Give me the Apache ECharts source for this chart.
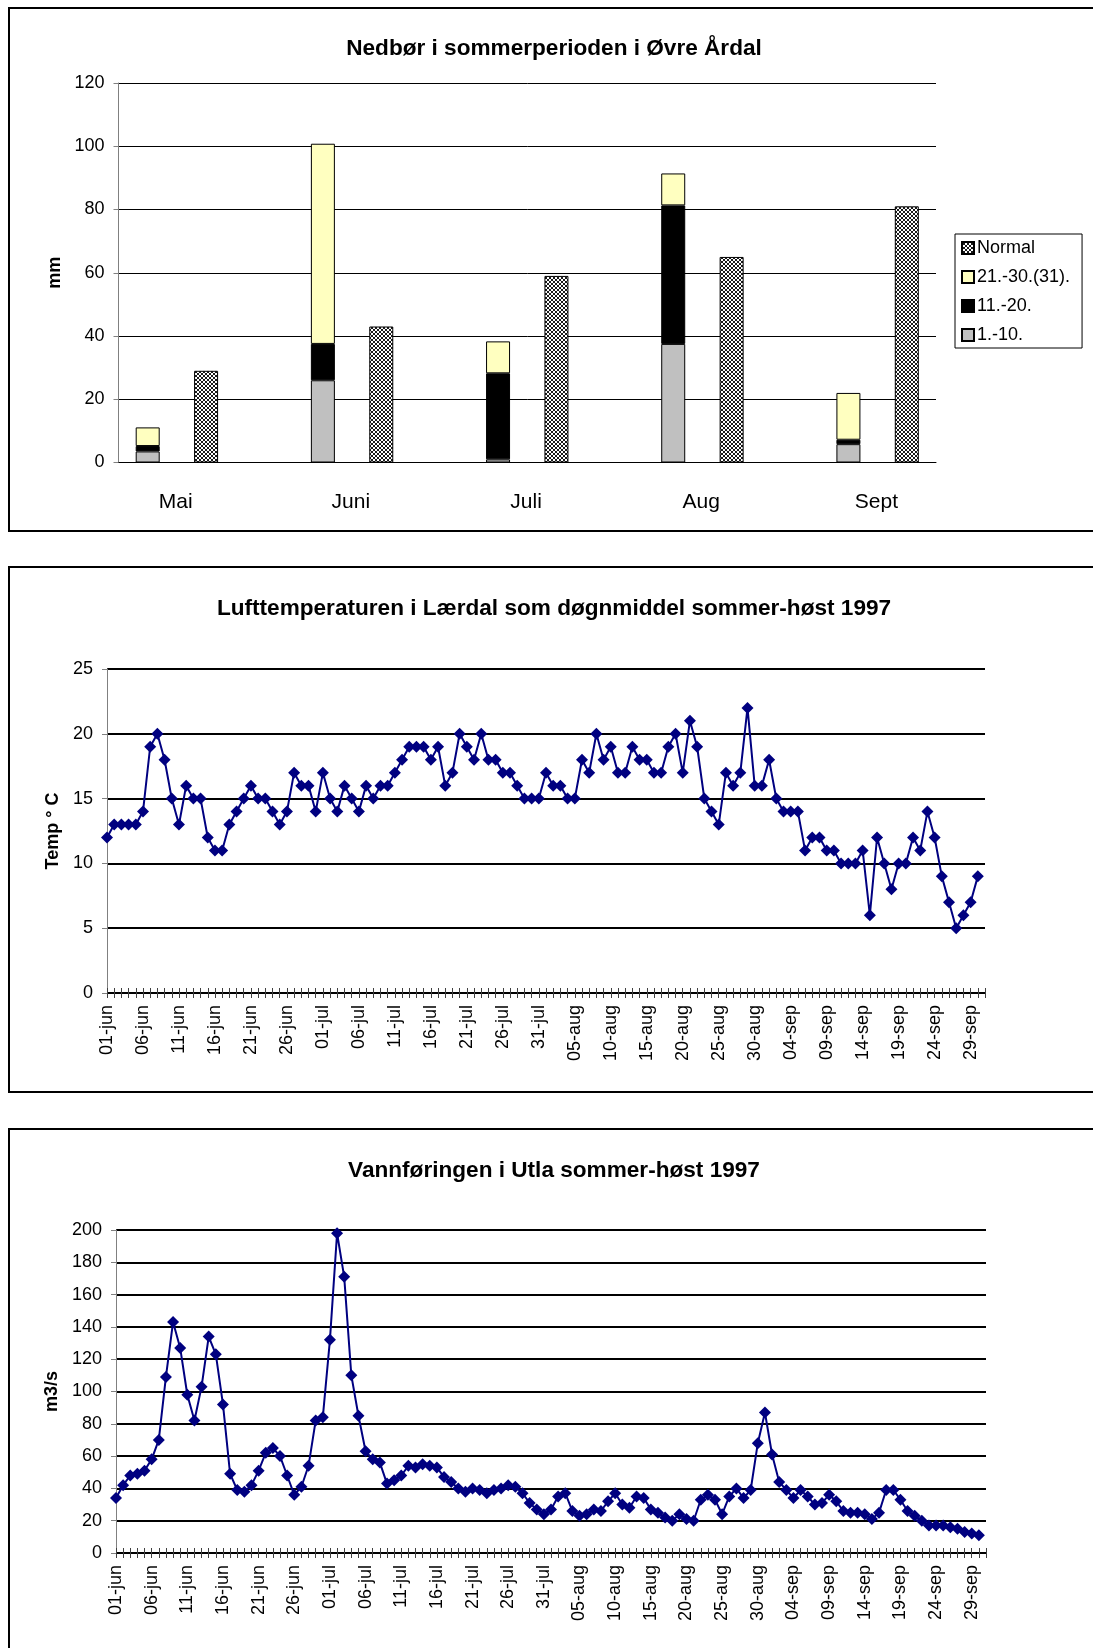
<!DOCTYPE html>
<html>
<head>
<meta charset="utf-8">
<title>Nedbør, lufttemperatur og vannføring 1997</title>
<script src="https://cdn.jsdelivr.net/npm/echarts@6/dist/echarts.min.js"></script>
<style>
  html, body { margin: 0; padding: 0; background: #fff; overflow: hidden; }
  #chart { width: 1093px; height: 1648px; }
</style>
</head>
<body>
<div id="chart"></div>
<script>
// Nedbør (mm) per tidagersperiode, måned for måned
var rainMonths = ['Mai', 'Juni', 'Juli', 'Aug', 'Sept'];
var rain1to10 = [3.5, 26, 1, 37.5, 5.8];
var rain11to20 = [1.7, 11.5, 27.2, 43.8, 1.4];
var rain21to31 = [5.9, 63.3, 10.1, 10.1, 14.8];
var rainNormal = [29, 43, 59, 65, 81];

// Dager 01-jun .. 30-sep
var dayMonths = [['jun', 30], ['jul', 31], ['aug', 31], ['sep', 30]];

// Lufttemperatur, døgnmiddel (°C)
var tempValues = [
  12, 13, 13, 13, 13, 14, 19, 20, 18, 15,
  13, 16, 15, 15, 12, 11, 11, 13, 14, 15,
  16, 15, 15, 14, 13, 14, 17, 16, 16, 14,
  17, 15, 14, 16, 15, 14, 16, 15, 16, 16,
  17, 18, 19, 19, 19, 18, 19, 16, 17, 20,
  19, 18, 20, 18, 18, 17, 17, 16, 15, 15,
  15, 17, 16, 16, 15, 15, 18, 17, 20, 18,
  19, 17, 17, 19, 18, 18, 17, 17, 19, 20,
  17, 21, 19, 15, 14, 13, 17, 16, 17, 22,
  16, 16, 18, 15, 14, 14, 14, 11, 12, 12,
  11, 11, 10, 10, 10, 11, 6, 12, 10, 8,
  10, 10, 12, 11, 14, 12, 9, 7, 5, 6,
  7, 9
];

// Vannføring i Utla (m3/s)
var flowValues = [
  34, 42, 48, 49, 51, 58, 70, 109, 143, 127,
  98, 82, 103, 134, 123, 92, 49, 39, 38, 42,
  51, 62, 65, 60, 48, 36, 41, 54, 82, 84,
  132, 198, 171, 110, 85, 63, 58, 56, 43, 45,
  48, 54, 53, 55, 54, 53, 47, 44, 40, 38,
  40, 39, 37, 39, 40, 42, 41, 37, 31, 27,
  24, 27, 35, 37, 26, 23, 24, 27, 26, 32,
  37, 30, 28, 35, 34, 27, 25, 22, 20, 24,
  21, 20, 33, 36, 33, 24, 35, 40, 34, 39,
  68, 87, 61, 44, 39, 34, 39, 35, 30, 31,
  36, 32, 26, 25, 25, 24, 21, 25, 39, 39,
  33, 26, 23, 20, 17, 17, 17, 16, 15, 13,
  12, 11
];

(function () {
  'use strict';

  var FONT = '"Liberation Sans", Arial, sans-serif';

  // 14 plasser: [målt, normal, tom] per måned
  var slotLabels = [];
  var s1 = [], s2 = [], s3 = [], sN = [];
  rainMonths.forEach(function (m, i) {
    slotLabels.push(m, '');
    s1.push(rain1to10[i], '-');
    s2.push(rain11to20[i], '-');
    s3.push(rain21to31[i], '-');
    sN.push('-', rainNormal[i]);
    if (i < rainMonths.length - 1) {
      slotLabels.push('');
      s1.push('-'); s2.push('-'); s3.push('-'); sN.push('-');
    }
  });

  var days = [];
  dayMonths.forEach(function (dm) {
    for (var d = 1; d <= dm[1]; d++) {
      days.push((d < 10 ? '0' : '') + d + '-' + dm[0]);
    }
  });
  days.push(''); // aksen går en dag forbi siste punkt

  // skravur for "Normal"
  var pc = document.createElement('canvas');
  pc.width = 4; pc.height = 4;
  var ctx = pc.getContext('2d');
  ctx.fillStyle = '#ffffff';
  ctx.fillRect(0, 0, 4, 4);
  ctx.fillStyle = '#1a1a1a';
  for (var k = 0; k < 4; k++) {
    ctx.fillRect(k, k, 1, 1);
    ctx.fillRect(3 - k, k, 1, 1);
  }
  var hatch = { image: pc, repeat: 'repeat' };

  var titleStyle = { fontSize: 22.6, fontWeight: 'bold', fontFamily: FONT, color: '#000' };
  var nameStyle = { fontSize: 18, fontWeight: 'bold', fontFamily: FONT, color: '#000' };
  var labelStyle = { fontSize: 18, fontFamily: FONT, color: '#000' };

  function dayAxis(grid) {
    return {
      gridIndex: grid,
      type: 'category',
      boundaryGap: false,
      data: days,
      axisLine: { lineStyle: { color: '#000', width: 1 } },
      axisTick: { interval: 0, length: 5, lineStyle: { color: '#404040' } },
      axisLabel: {
        interval: 4, rotate: 90, margin: 12,
        fontSize: 18, fontFamily: FONT, color: '#000'
      },
      splitLine: { show: false }
    };
  }
  function dayTicksInside(grid) {
    return {
      gridIndex: grid,
      type: 'category',
      position: 'bottom',
      boundaryGap: false,
      data: days,
      axisLine: { show: false },
      axisTick: { inside: true, interval: 0, length: 5, lineStyle: { color: '#404040' } },
      axisLabel: { show: false },
      splitLine: { show: false }
    };
  }
  function valueAxis(grid, max, step, name, gap, gridWidth) {
    return {
      gridIndex: grid,
      type: 'value',
      min: 0, max: max, interval: step,
      name: name,
      nameLocation: 'middle',
      nameRotate: 90,
      nameGap: gap,
      nameTextStyle: nameStyle,
      axisLine: { show: true, lineStyle: { color: '#808080' } },
      axisTick: { show: true, length: 5, lineStyle: { color: '#808080' } },
      axisLabel: Object.assign({ margin: 14 }, labelStyle),
      splitLine: { lineStyle: { color: '#000', width: gridWidth } }
    };
  }

  var chart = echarts.init(document.getElementById('chart'));

  var barBase = {
    type: 'bar',
    xAxisIndex: 0,
    yAxisIndex: 0,
    barWidth: 24,
    barGap: '-100%'
  };

  var option = {
    backgroundColor: '#fff',
    animation: false,
    title: [
      { text: 'Nedbør i sommerperioden i Øvre Årdal', left: 549, top: 32, textAlign: 'center', textStyle: titleStyle },
      { text: 'Lufttemperaturen i Lærdal som døgnmiddel sommer-høst 1997', left: 549, top: 592, textAlign: 'center', textStyle: titleStyle },
      { text: 'Vannføringen i Utla sommer-høst 1997', left: 549, top: 1154, textAlign: 'center', textStyle: titleStyle }
    ],
    legend: {
      data: ['Normal', '21.-30.(31).', '11.-20.', '1.-10.'],
      orient: 'vertical',
      left: 955,
      top: 234,
      padding: [5, 12, 4, 6],
      itemGap: 11,
      itemWidth: 12,
      itemHeight: 12,
      icon: 'rect',
      borderColor: '#000',
      borderWidth: 1,
      backgroundColor: '#fff',
      textStyle: { fontSize: 18, fontFamily: FONT, color: '#000', padding: [0, 0, 0, -2] }
    },
    grid: [
      { left: 118.5, top: 83, width: 817.5, height: 379.5 },
      { left: 107, top: 669, width: 878, height: 324 },
      { left: 116, top: 1230, width: 870, height: 323 }
    ],
    xAxis: [
      {
        gridIndex: 0,
        type: 'category',
        data: slotLabels,
        axisLine: { lineStyle: { color: '#000' } },
        axisTick: { show: false },
        axisLabel: {
          interval: 0, margin: 29, padding: [0, 0, 0, 56],
          fontSize: 21, fontFamily: FONT, color: '#000'
        }
      },
      dayAxis(1),
      dayTicksInside(1),
      dayAxis(2),
      dayTicksInside(2)
    ],
    yAxis: [
      valueAxis(0, 120, 20, 'mm', 54, 1),
      valueAxis(1, 25, 5, 'Temp ° C', 45, 2),
      valueAxis(2, 200, 20, 'm3/s', 54, 2)
    ],
    series: [
      Object.assign({}, barBase, {
        name: '1.-10.', stack: 'rain', data: s1,
        itemStyle: { color: '#C0C0C0', borderColor: '#000', borderWidth: 1 }
      }),
      Object.assign({}, barBase, {
        name: '11.-20.', stack: 'rain', data: s2,
        itemStyle: { color: '#000000', borderColor: '#000', borderWidth: 1 }
      }),
      Object.assign({}, barBase, {
        name: '21.-30.(31).', stack: 'rain', data: s3,
        itemStyle: { color: '#FFFFC0', borderColor: '#000', borderWidth: 1 }
      }),
      Object.assign({}, barBase, {
        name: 'Normal', data: sN,
        itemStyle: { color: hatch, borderColor: '#000', borderWidth: 1 }
      }),
      {
        name: 'Temperatur',
        type: 'line',
        xAxisIndex: 1,
        yAxisIndex: 1,
        data: tempValues,
        symbol: 'diamond',
        symbolSize: 12,
        showAllSymbol: true,
        itemStyle: { color: '#000080' },
        lineStyle: { color: '#000080', width: 2 }
      },
      {
        name: 'Vannføring',
        type: 'line',
        xAxisIndex: 3,
        yAxisIndex: 2,
        data: flowValues,
        symbol: 'diamond',
        symbolSize: 12,
        showAllSymbol: true,
        itemStyle: { color: '#000080' },
        lineStyle: { color: '#000080', width: 2 }
      }
    ],
    graphic: [
      { type: 'rect', shape: { x: 9, y: 8, width: 1200, height: 523 }, style: { fill: 'none', stroke: '#000', lineWidth: 2 }, silent: true },
      { type: 'rect', shape: { x: 9, y: 567, width: 1200, height: 525 }, style: { fill: 'none', stroke: '#000', lineWidth: 2 }, silent: true },
      { type: 'rect', shape: { x: 9, y: 1129, width: 1200, height: 700 }, style: { fill: 'none', stroke: '#000', lineWidth: 2 }, silent: true }
    ]
  };

  chart.setOption(option);

  window.addEventListener('resize', function () {
    chart.resize();
  });
})();
</script>
</body>
</html>
